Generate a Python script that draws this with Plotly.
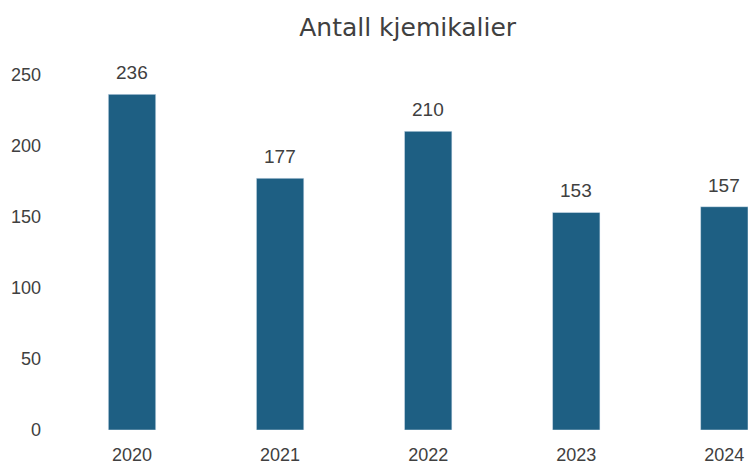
import plotly.graph_objects as go

years = ["2020", "2021", "2022", "2023", "2024"]
counts = [236, 177, 210, 153, 157]
y_ticks = [0, 50, 100, 150, 200, 250]

bar_color = "#1e5f83"
text_color = "#404040"
num_font = "Liberation Sans, Arial, sans-serif"

fig = go.Figure()
fig.add_trace(go.Bar(
    x=years, y=counts, marker_color=bar_color, width=0.32,
    hoverinfo="x+y",
))

for i, v in enumerate(counts):
    fig.add_annotation(x=i, y=v, text=str(v), showarrow=False,
                       yanchor="bottom", yshift=9,
                       font=dict(family=num_font, size=19, color=text_color))

fig.update_layout(
    width=748, height=466,
    margin=dict(l=58, r=0, t=46, b=36),
    paper_bgcolor="white", plot_bgcolor="white",
    showlegend=False,
    title=dict(text="Antall kjemikalier", x=0.545, xanchor="center", y=0.942, yanchor="middle",
               font=dict(family="DejaVu Sans, sans-serif", size=25, color=text_color)),
    xaxis=dict(type="category", range=[-0.5, 4.16], showgrid=False, showline=False, zeroline=False,
               ticks="", ticklabelstandoff=12, automargin=False,
               tickfont=dict(family=num_font, size=18, color=text_color)),
    yaxis=dict(range=[0, 270], tickvals=y_ticks, showgrid=False, showline=False, zeroline=False,
               ticks="", ticklabelstandoff=16, automargin=False,
               tickfont=dict(family=num_font, size=18, color=text_color)),
)

fig.write_html("out.html", config={"displayModeBar": False},
               post_script="document.body.style.margin='0';")
